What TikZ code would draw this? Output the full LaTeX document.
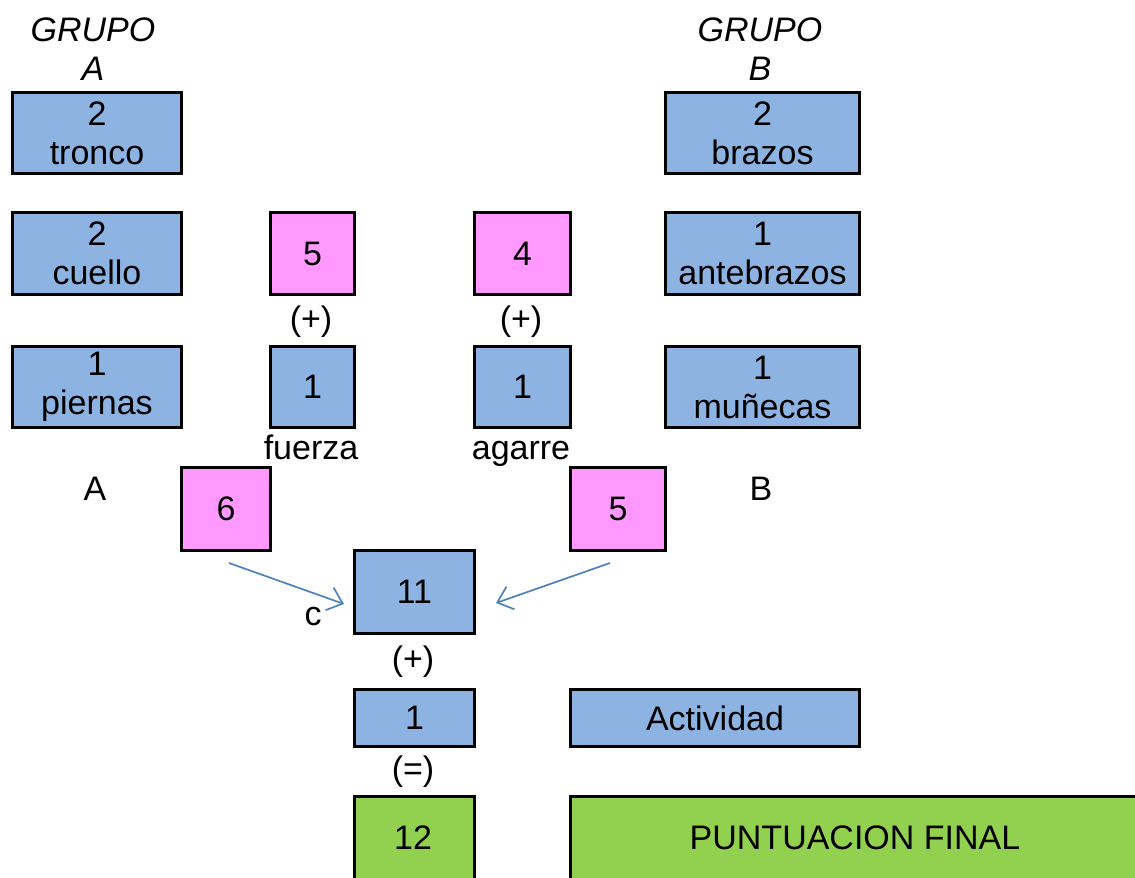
\documentclass[tikz,border=0pt]{standalone}
\usepackage{fontspec}
\setmainfont{Liberation Sans}
\usetikzlibrary{calc,arrows.meta}
\definecolor{boxblue}{HTML}{8DB3E2}
\definecolor{boxpink}{HTML}{FF99FF}
\definecolor{boxgreen}{HTML}{92D050}
\definecolor{flowblue}{HTML}{4F81BD}
\begin{document}
\begin{tikzpicture}[x=1pt,y=-1pt,
  every node/.style={font=\fontsize{34}{39}\selectfont, inner sep=0pt},
  cell/.style={draw=black, line width=3pt, anchor=north west, align=center},
  bluecell/.style={cell, fill=boxblue},
  pinkcell/.style={cell, fill=boxpink},
  greencell/.style={cell, fill=boxgreen},
  tag/.style={align=center},
  flow/.style={draw=flowblue, line width=1.7pt, -{Straight Barb[length=14pt,width=24pt,line width=1.7pt]}}]
\useasboundingbox (0,0) rectangle (1135,878);
\clip (0,0) rectangle (1135,878);

% group headings
\node[tag, font=\fontsize{34}{39}\selectfont\itshape] (grpA) at (93,49) {GRUPO\\A};
\node[tag, font=\fontsize{34}{39}\selectfont\itshape] (grpB) at (760,49) {GRUPO\\B};

% group A column
\node[bluecell, minimum width=169pt, minimum height=81pt] (tronco) at (11,91) {2\\tronco};
\node[bluecell, minimum width=169pt, minimum height=82pt] (cuello) at (11,211) {2\\cuello};
\node[bluecell, minimum width=169pt, minimum height=81pt] (piernas) at (11,345) {1\\piernas};

% group B column
\node[bluecell, minimum width=194pt, minimum height=81pt] (brazos) at (664,91) {2\\brazos};
\node[bluecell, minimum width=194pt, minimum height=82pt] (antebrazos) at (664,211) {1\\antebrazos};
\node[bluecell, minimum width=194pt, minimum height=81pt] (munecas) at (664,345) {1\\muñecas};

% force and grip
\node[pinkcell, minimum width=84pt, minimum height=82pt] (pA) at (269,211) {5};
\node[pinkcell, minimum width=96pt, minimum height=82pt] (pB) at (473,211) {4};
\node[tag] (plusA) at (311,322) {(+)};
\node[tag] (plusB) at (521,322) {(+)};
\node[bluecell, minimum width=84pt, minimum height=81pt] (fuerza) at (269,345) {1};
\node[bluecell, minimum width=96pt, minimum height=81pt] (agarre) at (473,345) {1};
\node[tag, anchor=base] (lfuerza) at (311,459) {fuerza};
\node[tag, anchor=base] (lagarre) at (521,459) {agarre};

% totals A and B
\node[tag] (lA) at (95,489) {A};
\node[tag] (lB) at (761,489) {B};
\node[pinkcell, minimum width=89pt, minimum height=83pt] (totA) at (180,466) {6};
\node[pinkcell, minimum width=95pt, minimum height=83pt] (totB) at (569,466) {5};

% table C
\node[bluecell, minimum width=120pt, minimum height=83pt] (tabC) at (353,549) {11};
\node[tag] (lc) at (313,617) {c};
\coordinate (fromA) at ($(totA.south)+(3,11)$);
\coordinate (fromB) at ($(totB.south)+(-8,11)$);
\draw[flow] (fromA) -- ($(tabC.west)+(-9,12)$);
\draw[flow] (fromB) -- ($(tabC.east)+(20,11)$);

% activity and final score
\node[tag] (plusC) at (413,662) {(+)};
\node[bluecell, minimum width=120pt, minimum height=57pt] (act) at (353,688) {1};
\node[bluecell, minimum width=289pt, minimum height=57pt] (lact) at (569,688) {Actividad};
\node[tag] (eq) at (413,772) {(=)};
\node[greencell, minimum width=120pt, minimum height=100pt] (final) at (353,795) {};
\node[greencell, minimum width=580pt, minimum height=100pt] (lfinal) at (569,795) {};
\node[tag] at (413,838) {12};
\node[tag] at (855,838) {PUNTUACION FINAL};
\end{tikzpicture}
\end{document}
